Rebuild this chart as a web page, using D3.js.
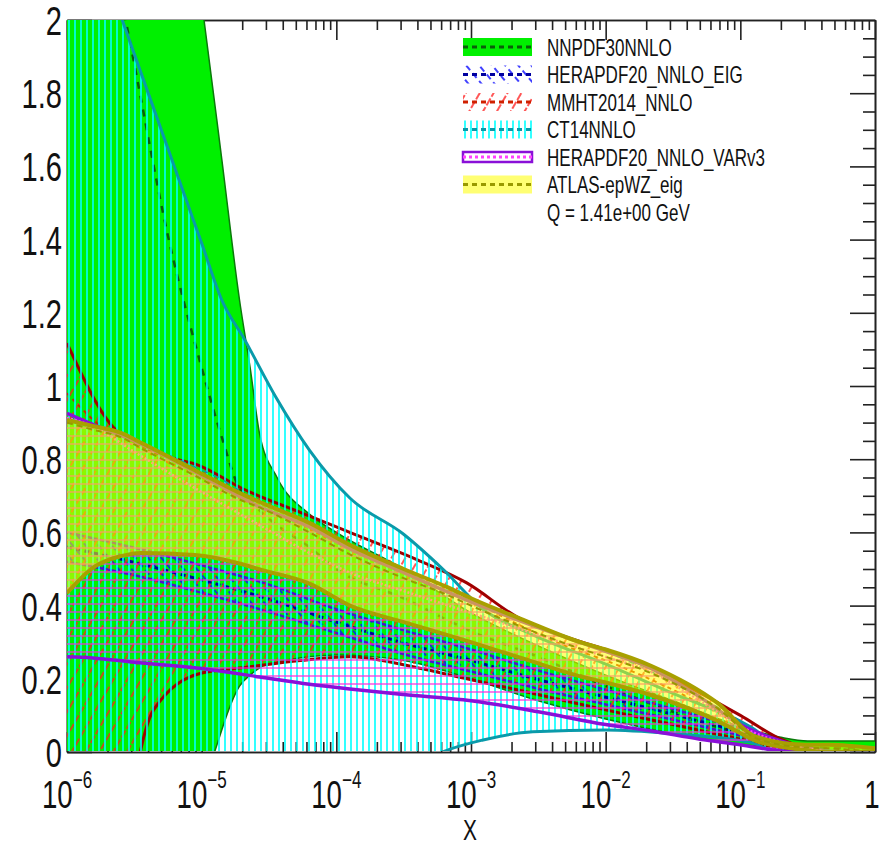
<!DOCTYPE html>
<html>
<head>
<meta charset="utf-8">
<script src="https://cdn.jsdelivr.net/npm/d3@7"></script>
<style>
body { margin: 0; background: #fff; }
text { font-family: "Liberation Sans", Arial, sans-serif; fill: #111; }
</style>
</head>
<body>
<div id="chart"></div>
<script>
// NNPDF30NNLO
var nnpdfX   = [1e-6, 1.78e-6, 3.16e-6, 5.62e-6, 1e-5, 1.41e-5, 1.91e-5, 2.29e-5, 2.69e-5, 3.63e-5, 6.31e-5, 1e-4, 3.16e-4, 1e-3, 3.16e-3, 0.01, 0.0316, 0.1, 0.2, 0.316, 0.5, 1];
var nnpdfUp  = [6, 4.8, 3.6, 2.7, 2.05, 1.62, 1.235, 1.05, 0.87, 0.75, 0.65, 0.6, 0.5, 0.38, 0.29, 0.21, 0.14, 0.07, 0.04, 0.03, 0.03, 0.03];
var nnpdfLo  = [-5, -3.5, -2, -1, -0.15, 0.06, 0.18, 0.21, 0.23, 0.245, 0.26, 0.265, 0.25, 0.2, 0.14, 0.09, 0.05, 0.02, 0.01, 0, 0, 0];
var nnpdfMid = [3.0, 2.36, 1.88, 1.41, 1.05, 0.86, 0.72, 0.69, 0.66, 0.62, 0.56, 0.5, 0.42, 0.33, 0.26, 0.18, 0.11, 0.05, 0.025, 0.015, 0.01, 0.01];

// HERAPDF20_NNLO_EIG
var eigX   = [1e-6, 3e-6, 1e-5, 3e-5, 1e-4, 3e-4, 1e-3, 3e-3, 0.01, 0.03, 0.1, 0.2, 0.3, 0.5, 1];
var eigUp  = [0.60, 0.56, 0.51, 0.46, 0.39, 0.335, 0.28, 0.225, 0.17, 0.12, 0.065, 0.032, 0.015, 0.002, 0];
var eigLo  = [0.52, 0.485, 0.435, 0.385, 0.325, 0.27, 0.22, 0.175, 0.13, 0.09, 0.045, 0.018, 0.005, 0, 0];
var eigMid = [0.56, 0.52, 0.47, 0.42, 0.355, 0.30, 0.25, 0.20, 0.15, 0.105, 0.055, 0.025, 0.01, 0, 0];

// MMHT2014_NNLO
var mmhtX   = [1e-6, 2.3e-6, 3.5e-6, 4.4e-6, 1e-5, 2e-5, 5.4e-5, 1.26e-4, 4e-4, 9.3e-4, 2.2e-3, 5e-3, 0.01, 0.0316, 0.1, 0.2, 0.316, 0.5, 1];
var mmhtUp  = [1.117, 0.88, 0.84, 0.82, 0.78, 0.72, 0.655, 0.60, 0.525, 0.462, 0.369, 0.315, 0.28, 0.2, 0.1, 0.035, 0.01, 0, 0];
var mmhtLo  = [-2, -0.5, 0, 0.115, 0.216, 0.23, 0.25, 0.26, 0.23, 0.2, 0.17, 0.14, 0.115, 0.075, 0.035, 0.01, 0, 0, 0];
var mmhtMid = [0.98, 0.86, 0.83, 0.81, 0.75, 0.69, 0.62, 0.555, 0.48, 0.42, 0.35, 0.29, 0.25, 0.17, 0.075, 0.025, 0.005, 0, 0];

// CT14NNLO
var ctX   = [1e-6, 1.58e-6, 2.57e-6, 5.01e-6, 1e-5, 1.41e-5, 2.09e-5, 3.55e-5, 6.31e-5, 1.26e-4, 3.16e-4, 6.17e-4, 1.23e-3, 2.88e-3, 0.01, 0.0316, 0.117, 0.174, 0.316, 1];
var ctUp  = [2.5, 2.22, 2.0, 1.70, 1.39, 1.235, 1.126, 0.97, 0.825, 0.694, 0.595, 0.50, 0.39, 0.32, 0.24, 0.16, 0.07, 0.03, 0.005, 0];
var ctLo  = [-2, -1.7, -1.4, -1.1, -0.8, -0.7, -0.6, -0.45, -0.3, -0.18, -0.06, 0, 0.033, 0.055, 0.06, 0.05, 0.027, 0.005, 0, 0];
var ctMid = [0.9, 0.885, 0.865, 0.82, 0.77, 0.745, 0.705, 0.665, 0.625, 0.565, 0.5, 0.455, 0.405, 0.35, 0.275, 0.19, 0.07, 0.03, 0.005, 0];

// HERAPDF20_NNLO_VARv3
var varX   = [1e-6, 1.55e-6, 3.16e-6, 1e-5, 2.69e-5, 6.31e-5, 1.26e-4, 3.16e-4, 1e-3, 3.16e-3, 0.01, 0.0214, 0.0501, 0.1, 0.2, 0.316, 0.5, 1];
var varUp  = [0.925, 0.895, 0.85, 0.755, 0.67, 0.615, 0.555, 0.49, 0.41, 0.34, 0.275, 0.23, 0.15, 0.075, 0.03, 0.01, 0, 0];
var varLo  = [0.26, 0.257, 0.245, 0.228, 0.205, 0.185, 0.172, 0.157, 0.14, 0.11, 0.075, 0.058, 0.035, 0.02, 0.003, 0, 0, 0];
var varMid = [0.913, 0.89, 0.82, 0.71, 0.62, 0.544, 0.49, 0.44, 0.38, 0.32, 0.26, 0.22, 0.14, 0.07, 0.027, 0.01, 0, 0];

// ATLAS-epWZ_eig
var atlasX   = [1e-6, 1.58e-6, 2.51e-6, 3.55e-6, 8.91e-6, 1.91e-5, 2.82e-5, 6.31e-5, 1.26e-4, 3.16e-4, 6.61e-4, 1e-3, 2.45e-3, 6.76e-3, 0.01, 0.0219, 0.0676, 0.132, 0.309, 0.457, 1];
var atlasUp  = [0.907, 0.89, 0.872, 0.845, 0.77, 0.708, 0.68, 0.626, 0.566, 0.5, 0.451, 0.42, 0.361, 0.298, 0.28, 0.235, 0.134, 0.041, 0.02, 0.02, 0.01];
var atlasLo  = [0.434, 0.505, 0.535, 0.544, 0.538, 0.515, 0.497, 0.46, 0.40, 0.355, 0.32, 0.30, 0.255, 0.205, 0.19, 0.155, 0.085, 0.03, 0.005, 0, 0];
var atlasMid = [0.9, 0.88, 0.86, 0.83, 0.755, 0.69, 0.665, 0.6, 0.54, 0.475, 0.43, 0.4, 0.34, 0.28, 0.26, 0.215, 0.12, 0.037, 0.012, 0.01, 0];

// axis ticks and legend text
var xMajor = [1e-6, 1e-5, 1e-4, 1e-3, 1e-2, 1e-1, 1];
var xMajorBase = ['10', '10', '10', '10', '10', '10', '1'];
var xMajorExp = ['-6', '-5', '-4', '-3', '-2', '-1', ''];
var yMajor = [0, 0.2, 0.4, 0.6, 0.8, 1, 1.2, 1.4, 1.6, 1.8, 2];
var yMajorLabels = ['0', '0.2', '0.4', '0.6', '0.8', '1', '1.2', '1.4', '1.6', '1.8', '2'];
var legendNames = ['NNPDF30NNLO', 'HERAPDF20_NNLO_EIG', 'MMHT2014_NNLO', 'CT14NNLO', 'HERAPDF20_NNLO_VARv3', 'ATLAS-epWZ_eig'];
var scaleLabel = 'Q = 1.41e+00 GeV';

var width = 887, height = 845;
var plotLeft = 67, plotRight = 875, plotTop = 20, plotBottom = 752;

var x = d3.scaleLog().domain([1e-6, 1]).range([plotLeft, plotRight]);
var y = d3.scaleLinear().domain([0, 2]).range([plotBottom, plotTop]);

var svg = d3.select('#chart').append('svg')
        .attr('width', width)
        .attr('height', height);

var defs = svg.append('defs');

function hatch(id, size, angle, color, w, dash) {
    var p = defs.append('pattern')
            .attr('id', id)
            .attr('patternUnits', 'userSpaceOnUse')
            .attr('width', size)
            .attr('height', 40)
            .attr('patternTransform', 'rotate(' + angle + ')');
    p.append('line')
            .attr('x1', size / 2).attr('y1', 0)
            .attr('x2', size / 2).attr('y2', 40)
            .attr('stroke', color)
            .attr('stroke-width', w)
            .attr('stroke-dasharray', dash);
}
hatch('hEig', 10, -40, '#1010ff', 1.6, '6 4');
hatch('hMmht', 12, 30, '#ff2020', 1.5, '8 2');
hatch('hCt', 6, 0, '#00ffff', 1.6, null);
hatch('hVar', 8, 90, '#ff22dd', 1.2, null);

defs.append('clipPath').attr('id', 'plotClip')
        .append('rect')
        .attr('x', plotLeft).attr('y', plotTop)
        .attr('width', plotRight - plotLeft).attr('height', plotBottom - plotTop - 1);

// frame and ticks (drawn first, bands go over them like in the original)
function tickAxis(axis, tx, ty, values, size) {
    svg.append('g')
            .attr('transform', 'translate(' + tx + ',' + ty + ')')
            .call(axis.tickValues(values).tickSize(size).tickSizeOuter(0).tickFormat(''))
            .call(function (g) {
                g.selectAll('path,line').attr('stroke', '#222').attr('stroke-width', 1.6);
            });
}
var xMinor = [];
xMajor.slice(0, 6).forEach(function (d) {
    for (var k = 2; k <= 9; k++) xMinor.push(d * k);
});
var yMinor = d3.range(0, 2.001, 0.05).filter(function (d) {
    return Math.abs(d * 5 - Math.round(d * 5)) > 1e-6;
});

tickAxis(d3.axisBottom(x), 0, plotBottom, xMajor, -20);
tickAxis(d3.axisBottom(x), 0, plotBottom, xMinor, -10);
tickAxis(d3.axisTop(x), 0, plotTop, xMajor, -20);
tickAxis(d3.axisTop(x), 0, plotTop, xMinor, -10);
tickAxis(d3.axisLeft(y), plotLeft, 0, yMajor, -25);
tickAxis(d3.axisLeft(y), plotLeft, 0, yMinor, -12);
tickAxis(d3.axisRight(y), plotRight, 0, yMajor, -25);
tickAxis(d3.axisRight(y), plotRight, 0, yMinor, -12);

// bands
var plot = svg.append('g').attr('clip-path', 'url(#plotClip)');

function toPoints(xs, up, lo, mid) {
    return xs.map(function (d, i) { return {x: d, up: up[i], lo: lo[i], mid: mid[i]}; });
}

function drawBand(points, opt) {
    var area = d3.area()
            .x(function (d) { return x(d.x); })
            .y0(function (d) { return y(d.lo); })
            .y1(function (d) { return y(d.up); })
            .curve(d3.curveMonotoneX);
    plot.append('path')
            .datum(points)
            .attr('d', area)
            .attr('fill', opt.fill)
            .attr('fill-opacity', opt.fillOpacity || 1)
            .attr('stroke', 'none');
    ['up', 'lo'].forEach(function (key) {
        var line = d3.line()
                .x(function (d) { return x(d.x); })
                .y(function (d) { return y(d[key]); })
                .curve(d3.curveMonotoneX);
        plot.append('path')
                .datum(points)
                .attr('d', line)
                .attr('fill', 'none')
                .attr('stroke', opt.edge)
                .attr('stroke-width', opt.edgeWidth);
    });
    var midLine = d3.line()
            .x(function (d) { return x(d.x); })
            .y(function (d) { return y(d.mid); })
            .curve(d3.curveMonotoneX);
    plot.append('path')
            .datum(points)
            .attr('d', midLine)
            .attr('fill', 'none')
            .attr('stroke', opt.mid)
            .attr('stroke-width', opt.midWidth)
            .attr('stroke-dasharray', opt.dash);
}

var styles = [
    {fill: '#00f000', edge: '#0a7a0a', edgeWidth: 1.5, mid: '#0b5e0b', midWidth: 2.5, dash: '7 7'},
    {fill: 'url(#hEig)', edge: '#5010d0', edgeWidth: 2.5, mid: '#0000a0', midWidth: 3, dash: '5 4'},
    {fill: 'url(#hMmht)', edge: '#a00000', edgeWidth: 3, mid: '#d02000', midWidth: 2, dash: '4 4'},
    {fill: 'url(#hCt)', edge: '#0a9aaa', edgeWidth: 3, mid: '#0a9aaa', midWidth: 1.5, dash: '6 6'},
    {fill: 'url(#hVar)', edge: '#8a10d8', edgeWidth: 3.5, mid: '#ff40ff', midWidth: 2.5, dash: '2 2'},
    {fill: '#ffff00', fillOpacity: 0.55, edge: '#a8a000', edgeWidth: 4, mid: '#999900', midWidth: 2, dash: '6 4'}
];

drawBand(toPoints(nnpdfX, nnpdfUp, nnpdfLo, nnpdfMid), styles[0]);
drawBand(toPoints(eigX, eigUp, eigLo, eigMid), styles[1]);
drawBand(toPoints(mmhtX, mmhtUp, mmhtLo, mmhtMid), styles[2]);
drawBand(toPoints(ctX, ctUp, ctLo, ctMid), styles[3]);
drawBand(toPoints(varX, varUp, varLo, varMid), styles[4]);
drawBand(toPoints(atlasX, atlasUp, atlasLo, atlasMid), styles[5]);

// tick labels (the original font is narrow, so squeeze it)
var squeeze = 0.71;
yMajor.forEach(function (d, i) {
    svg.append('text')
            .attr('transform', 'translate(62,' + (y(d) + 15) + ') scale(' + squeeze + ',1)')
            .attr('text-anchor', 'end')
            .style('font-size', '41px')
            .text(yMajorLabels[i]);
});
xMajor.forEach(function (d, i) {
    var t = svg.append('text')
            .attr('transform', 'translate(' + (x(d) - (i === 6 ? 3 : 0)) + ',808) scale(' + squeeze + ',1)')
            .attr('text-anchor', 'middle')
            .style('font-size', '39px');
    t.append('tspan').text(xMajorBase[i]);
    if (xMajorExp[i]) {
        t.append('tspan')
                .attr('dy', -20)
                .style('font-size', '24px')
                .text(xMajorExp[i].replace('-', '\u2212'));
    }
});
svg.append('text')
        .attr('transform', 'translate(470,840) scale(0.72,1)')
        .attr('text-anchor', 'middle')
        .style('font-size', '29px')
        .text('X');

// legend
var legendTop = 47, legendStep = 27.5;
var legend = svg.append('g');
legendNames.forEach(function (name, i) {
    var cy = legendTop + i * legendStep;
    var st = styles[i];
    if (i === 5) {
        legend.append('rect')
                .attr('x', 463).attr('y', cy - 9).attr('width', 69).attr('height', 18)
                .attr('fill', '#ffff00').attr('fill-opacity', 0.55);
    } else if (i === 4) {
        legend.append('rect')
                .attr('x', 463).attr('y', cy - 5).attr('width', 69).attr('height', 10)
                .attr('fill', '#fff').attr('stroke', st.edge).attr('stroke-width', 2.5);
    } else {
        legend.append('rect')
                .attr('x', 463).attr('y', cy - 9).attr('width', 69).attr('height', 18)
                .attr('fill', st.fill);
    }
    legend.append('line')
            .attr('x1', 463).attr('x2', 532)
            .attr('y1', cy).attr('y2', cy)
            .attr('stroke', st.mid)
            .attr('stroke-width', 3)
            .attr('stroke-dasharray', i === 4 ? '3 3' : '5 4');
    legend.append('text')
            .attr('transform', 'translate(547,' + (cy + 8.5) + ') scale(0.74,1)')
            .style('font-size', '23px')
            .text(name);
});
legend.append('text')
        .attr('transform', 'translate(547,' + (legendTop + 6 * legendStep + 8.5) + ') scale(0.74,1)')
        .style('font-size', '23px')
        .text(scaleLabel);
</script>
</body>
</html>
